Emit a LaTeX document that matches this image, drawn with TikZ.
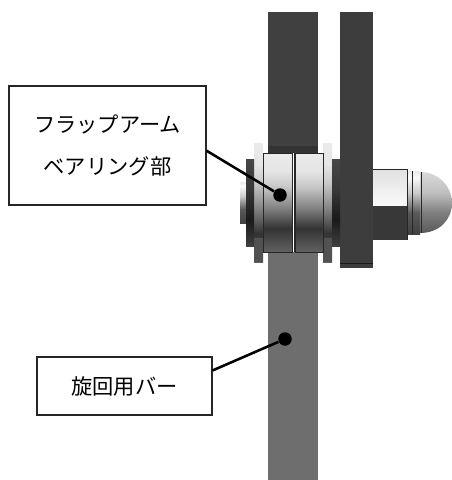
\documentclass[tikz,border=0pt]{standalone}
\usepackage{fontspec}
\setmainfont{Noto Sans CJK JP}
\pgfdeclareverticalshading{bearingshade}{100bp}{
  color(0bp)=(black!62); color(25bp)=(black!62); color(37bp)=(black!80); color(47bp)=(black!50);
  color(58bp)=(black!22); color(66bp)=(black!10); color(75bp)=(black!8); color(100bp)=(black!8)}
\pgfdeclareverticalshading{discshade}{100bp}{
  color(0bp)=(black!75); color(25bp)=(black!75); color(40bp)=(black!90); color(58bp)=(black!78);
  color(75bp)=(black!72); color(100bp)=(black!72)}
\pgfdeclareverticalshading{domeshade}{100bp}{
  color(0bp)=(black!65); color(25bp)=(black!65); color(42bp)=(black!50); color(58bp)=(black!25);
  color(75bp)=(black!15); color(100bp)=(black!15)}
\pgfdeclareverticalshading{neckshade}{100bp}{
  color(0bp)=(black!75); color(25bp)=(black!75); color(42bp)=(black!65); color(58bp)=(black!20);
  color(70bp)=(black!2); color(75bp)=(black!8); color(100bp)=(black!8)}
\pgfdeclareverticalshading{nutshade}{100bp}{
  color(0bp)=(black!2); color(25bp)=(black!2); color(75bp)=(black!12); color(100bp)=(black!12)}

\begin{document}
\begin{tikzpicture}[x=0.02cm,y=-0.02cm]
    \tikzstyle{every node}+=[inner sep=0pt]
    \tikzstyle{labelbox}=[draw=black!85,line width=0.65pt,fill=white,font=\fontsize{12.1}{14}\selectfont,align=center]
    \tikzstyle{dot}=[circle,fill=black,minimum size=0.27cm]
    \tikzstyle{leader}=[black,line width=1.45pt]
    \tikzstyle{edge}=[black!85,line width=0.35pt]
    \useasboundingbox (0,0) rectangle (452,480);
    \fill [white] (0,0) rectangle (452,480);
    \fill [black!75] (268,12) rectangle (318,146);
    \fill [black!80] (268,146) rectangle (318,153);
    \fill [black!57] (268,252) rectangle (318,480);
    \fill [black!76] (340,12) rectangle (373,268);
    \draw [black!90,line width=0.4pt] (340,263) -- (373,263);
    \shade [shading=bearingshade] (254,143) rectangle (263,262);
    \shade [shading=bearingshade] (323,143) rectangle (332,262);
    \fill [black!68] (254,238) rectangle (263,262);
    \fill [black!68] (323,238) rectangle (332,262);
    \shade [shading=neckshade] (240,182) rectangle (246,223);
    \shade [shading=discshade] (246,159) rectangle (254,246);
    \shade [shading=discshade] (332,159) rectangle (340,246);
    \fill [black!85] (292,153) rectangle (295,252);
    \draw [white,line width=0.4pt] (293.5,153) -- (293.5,252);
    \shade [shading=bearingshade,draw=black!85,line width=0.35pt] (263,153) rectangle (292,252);
    \shade [shading=bearingshade,draw=black!85,line width=0.35pt] (295,153) rectangle (323,252);
    \shade [shading=nutshade] (373,169) rectangle (407,206);
    \fill [black!78] (373,206) rectangle (407,240);
    \shade [shading=neckshade] (407,171) rectangle (420,234);
    \shade [shading=domeshade] (420,172) .. controls (440,172) and (452,188) .. (452,203) .. controls (452,219) and (440,233) .. (420,233) -- cycle;
    \draw [edge] (373,169) -- (407,169) -- (407,240);
    \draw [edge] (412,171) -- (412,234);
    \draw [edge] (421,172) -- (421,233);
    \node [dot] (flapdot) at (280,195) {};
    \node [dot] (bardot) at (285,339) {};
    \node [labelbox,minimum width=3.94cm,minimum height=2.38cm] (flapbox) at (107.5,145.5) {フラップアーム\\[0.34cm]ベアリング部};
    \node [labelbox,minimum width=3.5cm,minimum height=1.16cm] (barbox) at (124.5,386) {旋回用バー};
    \draw [leader] (flapbox.-3) -- (flapdot);
    \draw [leader] (barbox.10) -- (bardot);
\end{tikzpicture}
\end{document}
